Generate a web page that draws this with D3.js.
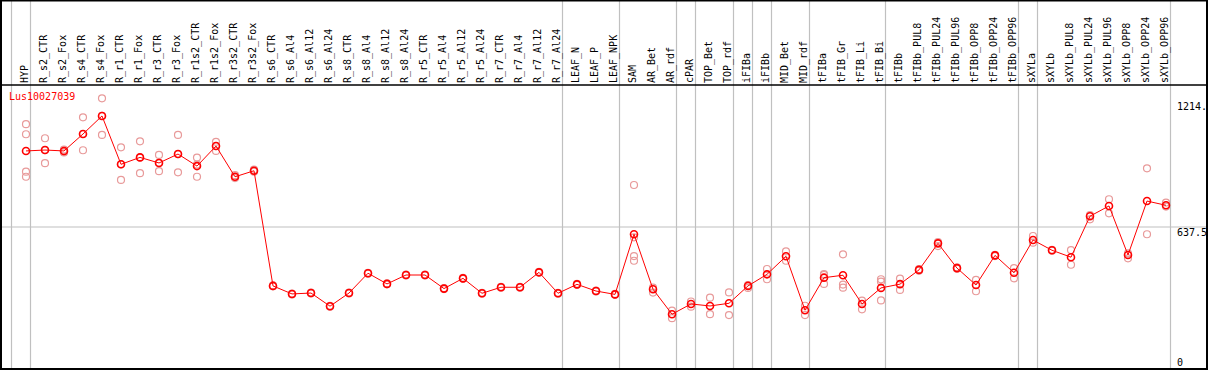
<!DOCTYPE html>
<meta charset="utf-8">
<script src="https://d3js.org/d3.v7.min.js"></script>
<title>Lus10027039</title>
<style>
body { margin: 0; background: #fff; }
svg { font: 10px "DejaVu Sans Mono", monospace; display: block; }
</style>
<svg width="1209" height="370"></svg>
<script>

var samples = ["HYP","R_s2_CTR","R_s2_Fox","R_s4_CTR","R_s4_Fox","R_r1_CTR","R_r1_Fox","R_r3_CTR","R_r3_Fox",
  "R_r1s2_CTR","R_r1s2_Fox","R_r3s2_CTR","R_r3s2_Fox","R_s6_CTR","R_s6_Al4","R_s6_Al12","R_s6_Al24",
  "R_s8_CTR","R_s8_Al4","R_s8_Al12","R_s8_Al24","R_r5_CTR","R_r5_Al4","R_r5_Al12","R_r5_Al24",
  "R_r7_CTR","R_r7_Al4","R_r7_Al12","R_r7_Al24","LEAF_N","LEAF_P","LEAF_NPK","SAM","AR_Bet","AR_rdf",
  "cPAR","TOP_Bet","TOP_rdf","iFIBa","iFIBb","MID_Bet","MID_rdf","tFIBa","tFIB_Gr","tFIB_Li","tFIB_Bi",
  "tFIBb","tFIBb_PUL8","tFIBb_PUL24","tFIBb_PUL96","tFIBb_OPP8","tFIBb_OPP24","tFIBb_OPP96",
  "sXYLa","sXYLb","sXYLb_PUL8","sXYLb_PUL24","sXYLb_PUL96","sXYLb_OPP8","sXYLb_OPP24","sXYLb_OPP96"];

// mean expression per sample
var means = [979,983,979,1055,1136,919,950,925,965,911,1001,863,890,
  373,337,341,282,341,430,382,422,422,361,407,340,367,367,434,340,
  380,350,335,605,358,246,292,283,295,373,425,506,264,410,421,292,364,
  381,445,564,453,377,510,432,579,533,502,686,732,512,754,735];

// replicate values per sample
var replicates = [
  [1099,1054,886,863],[1036,983,924],[985,975,972],[1130,1055,982],[1215,1136,1051],
  [995,919,849],[1022,950,879],[961,925,888],[1051,965,883],[949,918,863],
  [1020,1001,979],[870,863,857],[895,890,886],
  [375,371],[339,335],[343,339],[284,280],[343,339],[432,428],[384,380],[424,420],
  [424,420],[363,359],[409,405],[342,338],[369,365],[369,365],[436,432],[342,338],
  [382,378],[352,348],[337,333],
  [826,591,507,486],[365,343],[262,228],[303,280],[320,246],[344,242],
  [377,364],[449,403],[528,486],[284,242],[422,382,426],[515,379,365],
  [307,268],[403,392,308],[406,355],[448,441],[570,552],[456,450],
  [400,349],[513,507],[453,407],[597,567],[535,531],[534,468],
  [691,672],[762,699],[497,519],[901,605],[747,729]];

// samples after which a group separator is drawn
var groupEnds = ["HYP","R_r7_Al24","LEAF_NPK","AR_rdf","cPAR","TOP_rdf","iFIBa","iFIBb",
  "MID_rdf","tFIB_Bi","tFIBb_OPP96","sXYLa","sXYLb_OPP96"];

var tickValues = [1214, 637.5, 0];
var tickLabels = ["1214.", "637.5", "0"];
var geneName = "Lus10027039";

var svg = d3.select("svg"),
    width = +svg.attr("width"),
    height = +svg.attr("height");

var headerBottom = 85, plotBottom = 369;

var x = d3.scalePoint()
    .domain(samples)
    .range([26, 1166]);

var y = d3.scaleLinear()
    .domain([0, 1275])
    .range([plotBottom, headerBottom]);

// group separators
var seps = [x(samples[0]) - x.step() + 4.5].concat(groupEnds.map(d => x(d) + 4.5));
svg.selectAll("line.sep")
  .data(seps)
  .join("line")
    .attr("class", "sep")
    .attr("x1", d => d).attr("x2", d => d)
    .attr("y1", 0).attr("y2", plotBottom)
    .attr("stroke", "#c0c0c0")
    .attr("stroke-width", 1.2);

// mid gridline
svg.append("line")
    .attr("x1", 1).attr("x2", 1207)
    .attr("y1", y(637.5)).attr("y2", y(637.5))
    .attr("stroke", "#c0c0c0")
    .attr("stroke-width", 1.2);

// frame
svg.append("rect")
    .attr("x", 1).attr("y", 0.5)
    .attr("width", 1206).attr("height", plotBottom - 0.5)
    .attr("fill", "none")
    .attr("stroke", "#000")
    .attr("stroke-width", 2);
svg.append("line")
    .attr("x1", 1).attr("x2", 1207)
    .attr("y1", headerBottom).attr("y2", headerBottom)
    .attr("stroke", "#000")
    .attr("stroke-width", 1.5);

// sample labels
svg.selectAll("text.sample")
  .data(samples)
  .join("text")
    .attr("class", "sample")
    .attr("transform", d => "translate(" + (x(d) - 2) + "," + (headerBottom - 2) + ") rotate(-90)")
    .attr("dy", "0.35em")
    .attr("fill", "#000")
    .text(d => d);

// value labels on the right
svg.selectAll("text.tick")
  .data(tickValues)
  .join("text")
    .attr("class", "tick")
    .attr("x", 1177)
    .attr("y", (d, i) => y(d) + (i === 0 ? 11.5 : i === 1 ? 9 : -3))
    .attr("fill", "#000")
    .text((d, i) => tickLabels[i]);

svg.append("text")
    .attr("x", 9)
    .attr("y", 100)
    .attr("fill", "#ff0000")
    .text(geneName);

// replicate points
var repPts = [];
replicates.forEach((r, i) => r.forEach(v => repPts.push({s: samples[i], v: v})));
svg.append("g")
  .selectAll("circle")
  .data(repPts)
  .join("circle")
    .attr("cx", d => x(d.s))
    .attr("cy", d => y(d.v))
    .attr("r", 3.5)
    .attr("fill", "none")
    .attr("stroke", "#e89a9a")
    .attr("stroke-width", 1.2);

// mean line
var line = d3.line()
    .x((d, i) => x(samples[i]))
    .y(d => y(d));
svg.append("path")
    .datum(means)
    .attr("d", line)
    .attr("fill", "none")
    .attr("stroke", "#ff0000")
    .attr("stroke-width", 1);

svg.append("g")
  .selectAll("circle")
  .data(means)
  .join("circle")
    .attr("cx", (d, i) => x(samples[i]))
    .attr("cy", d => y(d))
    .attr("r", 3.5)
    .attr("fill", "none")
    .attr("stroke", "#ff0000")
    .attr("stroke-width", 1.6);

</script>
